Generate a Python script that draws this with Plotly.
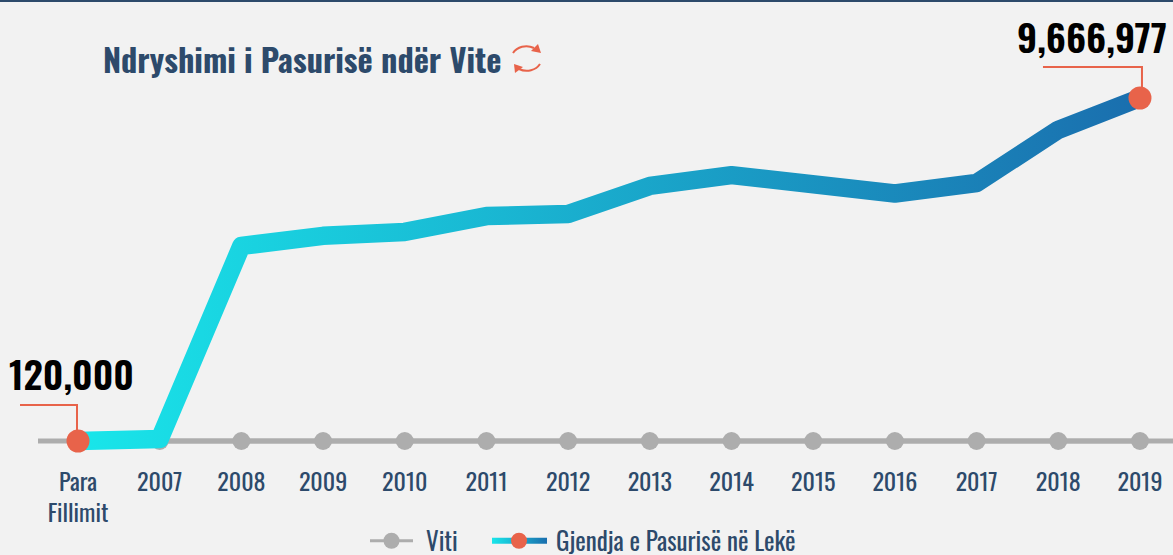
import plotly.graph_objects as go

W, H = 1173, 555
categories = ["Para<br>Fillimit", "2007", "2008", "2009", "2010", "2011", "2012", "2013",
              "2014", "2015", "2016", "2017", "2018", "2019"]
wealth = [120000, 175000, 5550000, 5830000, 5940000, 6380000, 6440000, 7220000,
          7520000, 7270000, 7010000, 7300000, 8780000, 9666977]
year_axis = [120000] * 14
title_text = "Ndryshimi i Pasurisë ndër Vite"
year_name = "Viti"
wealth_name = "Gjendja e Pasurisë në Lekë"
start_label = "120,000"
end_label = "9,666,977"

NAVY = "#2d4a6b"
RED = "#e8634a"
GREY = "#adadad"
BG = "#f2f2f2"
FONT = "Oswald, 'Liberation Sans Narrow', 'Arial Narrow', sans-serif"

x = list(range(len(categories)))
VAL_PER_PX = (9666977 - 120000) / (441 - 98)
val_at = lambda py: 120000 + (441 - py) * VAL_PER_PX
px = lambda a: a / W
py = lambda b: 1 - b / H
cat_per_px = 1 / 81.69
AXIS_BOTTOM = 453


def leader(xval, yval, path):
    return dict(type="path", xref="x", yref="y", xsizemode="pixel", ysizemode="pixel",
                xanchor=xval, yanchor=yval, path=path, line=dict(color=RED, width=2),
                fillcolor="rgba(0,0,0,0)", layer="above")


def icon(path, fill=False):
    return dict(type="path", xref="paper", yref="paper", path=path,
                line=dict(color=RED, width=2 if not fill else 0),
                fillcolor=RED if fill else "rgba(0,0,0,0)", layer="above")


def pth(cmds):
    out = []
    for c in cmds:
        if c[0] == "Z":
            out.append("Z")
        else:
            nums = c[1:]
            pts = " ".join(f"{px(nums[i]):.5f},{py(nums[i+1]):.5f}" for i in range(0, len(nums), 2))
            out.append(f"{c[0]} {pts}")
    return " ".join(out)


fig = go.Figure()
fig.add_trace(go.Scatter(x=x, y=year_axis, name=year_name, mode="lines+markers",
                         line=dict(color=GREY, width=5),
                         marker=dict(color=GREY, size=18), hoverinfo="skip"))
marker_colors = [RED] + ["rgba(0,0,0,0)"] * (len(x) - 2) + [RED]
fig.add_trace(go.Scatter(x=x, y=wealth, name=wealth_name, mode="lines+markers",
                         line=dict(color="#1a9fc8", width=18.5),
                         marker=dict(color=marker_colors, size=23, line=dict(width=0)),
                         hoverinfo="skip"))

fig.update_layout(
    width=W, height=H, autosize=False,
    margin=dict(l=0, r=0, t=0, b=0, autoexpand=False),
    paper_bgcolor=BG, plot_bgcolor=BG,
    font=dict(family=FONT, color=NAVY),
    showlegend=True,
    legend=dict(orientation="h", x=px(365), xanchor="left", y=py(518), yanchor="top",
                font=dict(size=25, color=NAVY), itemwidth=43, bgcolor="rgba(0,0,0,0)",
                traceorder="normal"),
    xaxis=dict(domain=[0, 1], range=[-78 * cat_per_px, (W - 78) * cat_per_px],
               tickmode="array", tickvals=x, ticktext=categories,
               showgrid=False, zeroline=False, showline=False, ticks="outside",
               ticklen=8, tickcolor="rgba(0,0,0,0)", tickangle=0,
               tickfont=dict(size=24, color=NAVY)),
    yaxis=dict(domain=[1 - AXIS_BOTTOM / H, 1], range=[val_at(AXIS_BOTTOM), val_at(0)], visible=False),
    shapes=[
        dict(type="rect", xref="paper", yref="paper", x0=0, x1=1, y0=py(2), y1=1,
             fillcolor=NAVY, line=dict(width=0)),
        dict(type="line", xref="paper", yref="y", x0=px(38), x1=1, y0=year_axis[0], y1=year_axis[0],
             line=dict(color=GREY, width=5), layer="below"),
        leader(x[0], wealth[0], "M -58,36 L -1,36 L -1,10"),
        leader(x[-1], wealth[-1], "M -97,31 L 2,31 L 2,8"),
        icon(pth([("M", 513, 53), ("C", 517, 47, 526, 44, 534, 48)])),
        icon(pth([("M", 538, 44), ("L", 541, 53), ("L", 531, 51), ("Z",)]), True),
        icon(pth([("M", 540, 64), ("C", 536, 70, 527, 73, 519, 69)])),
        icon(pth([("M", 514, 64), ("L", 515, 73), ("L", 523, 67), ("Z",)]), True),
    ],
    annotations=[
        dict(text=title_text, xref="paper", yref="paper", x=px(101), y=py(58),
             xanchor="left", yanchor="middle", showarrow=False,
             font=dict(size=32.3, color=NAVY, family=FONT, weight=700)),
        dict(text=start_label, xref="paper", yref="paper", x=px(71), y=py(373),
             xanchor="center", yanchor="middle", showarrow=False,
             font=dict(size=38, color="#000000", family=FONT, weight=600)),
        dict(text=end_label, xref="paper", yref="paper", x=px(1092), y=py(36),
             xanchor="center", yanchor="middle", showarrow=False,
             font=dict(size=38, color="#000000", family=FONT, weight=600)),
    ],
)

post = """
var gd = document.querySelector('.plotly-graph-div');
document.body.style.margin = '0';
var NS = 'http://www.w3.org/2000/svg';
var svg = document.querySelector('.main-svg');
function grad(id, units, x1, x2) {
  var g = document.createElementNS(NS, 'linearGradient');
  g.setAttribute('id', id);
  g.setAttribute('gradientUnits', units);
  g.setAttribute('x1', x1); g.setAttribute('x2', x2);
  g.setAttribute('y1', 0); g.setAttribute('y2', 0);
  [['0', '#19e6ea'], ['1', '#1a6eae']].forEach(function (s) {
    var st = document.createElementNS(NS, 'stop');
    st.setAttribute('offset', s[0]); st.setAttribute('stop-color', s[1]);
    g.appendChild(st);
  });
  svg.querySelector('defs').appendChild(g);
}
grad('wealthGrad', 'objectBoundingBox', 0, 1);
grad('legendGrad', 'userSpaceOnUse', 5, 60);
var lines = gd.querySelectorAll('.scatterlayer .trace .js-line');
var main = lines[lines.length - 1];
main.style.stroke = 'url(#wealthGrad)';
main.style.strokeLinejoin = 'round';
var sb = gd.querySelector('.legend .scrollbox');
if (sb) sb.removeAttribute('clip-path');
var items = gd.querySelectorAll('.legend .traces');
var first = items[0], second = items[1];
first.querySelector('.legendlines path').style.strokeWidth = '3px';
first.querySelector('.legendtext').setAttribute('x', 61);
var ll = second.querySelector('.legendlines path');
ll.setAttribute('d', 'M5,0h55');
ll.style.stroke = 'url(#legendGrad)';
ll.style.strokeWidth = '6px';
var m = (second.getAttribute('transform') || '').match(/translate\\(([-\\d.]+)[ ,]+([-\\d.]+)\\)/);
second.setAttribute('transform', 'translate(122,' + (m ? m[2] : 0) + ')');
second.querySelector('.legendtext').setAttribute('x', 69);
second.querySelectorAll('.legendpoints path').forEach(function (p) {
  p.setAttribute('transform', 'translate(32,0)');
});
"""
fig.write_html("out.html", post_script=post, config={"displayModeBar": False})
